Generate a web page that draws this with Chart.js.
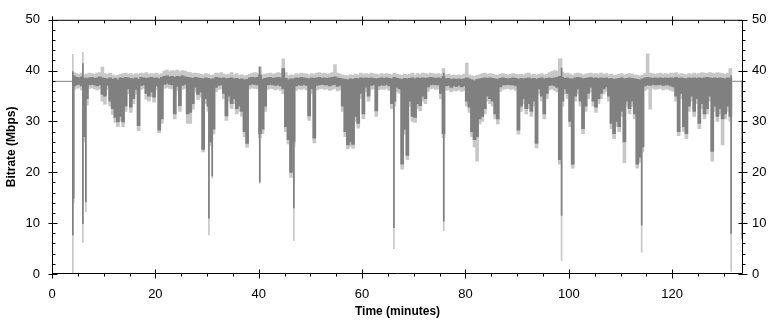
<!DOCTYPE html>
<html>
<head>
<meta charset="utf-8">
<script src="https://cdn.jsdelivr.net/npm/chart.js@4.4.1/dist/chart.umd.min.js"></script>
<style>
  html, body { margin: 0; padding: 0; background: #fff; }
  #wrap { width: 774px; height: 321px; }
</style>
</head>
<body>
<div id="wrap"><canvas id="bitrate" width="774" height="321"></canvas></div>
<script>
// samples are half-minute bins, first one centred on 4.25 min
const binStart = 4.25;
const binStep = 0.5;

// lower edge of the dark (mean) trace per bin, Mbps
const darkLow = [
  37.0, 37.2, 37.3, 37.0, 27.0, 34.5, 37.2, 37.3, 37.2, 37.0,
  37.2, 35.3, 35.0, 37.1, 34.0, 32.5, 30.8, 29.9, 31.0, 29.9,
  33.0, 36.4, 32.8, 34.5, 36.3, 29.2, 37.1, 37.2, 35.5, 35.0,
  35.8, 34.8, 37.0, 28.3, 30.5, 37.3, 37.5, 37.3, 37.2, 31.5,
  36.9, 33.1, 37.1, 37.3, 31.5, 31.8, 33.5, 36.7, 35.3, 35.8,
  24.5, 34.5, 33.0, 26.0, 28.5, 36.7, 37.1, 37.2, 35.5, 31.1,
  35.0, 33.5, 34.5, 32.5, 33.0, 32.0, 28.0, 25.7, 37.2, 37.4,
  37.3, 37.2, 27.6, 28.5, 33.0, 37.2, 37.3, 37.2, 37.1, 37.2,
  37.0, 36.4, 29.0, 26.4, 20.0, 26.0, 37.0, 37.2, 37.1, 37.3,
  37.1, 31.1, 36.4, 26.7, 37.1, 37.2, 37.3, 37.2, 37.2, 37.0,
  37.2, 37.3, 36.9, 37.1, 33.0, 28.0, 25.4, 26.0, 25.5, 31.0,
  29.6, 35.5, 31.5, 36.7, 35.0, 37.1, 37.2, 32.1, 37.0, 37.2,
  37.1, 37.3, 37.0, 33.5, 34.0, 36.7, 36.4, 21.6, 28.5, 23.3,
  34.0, 31.0, 30.8, 33.5, 33.1, 35.0, 34.5, 36.8, 37.2, 37.3,
  37.2, 37.2, 35.5, 27.6, 37.0, 37.1, 36.7, 37.0, 36.9, 37.1,
  36.8, 37.0, 34.0, 32.8, 28.0, 26.4, 27.0, 30.5, 31.0, 32.5,
  35.0, 34.5, 34.0, 31.5, 30.5, 36.8, 37.2, 37.2, 37.3, 37.2,
  37.2, 37.0, 28.3, 33.0, 34.5, 32.5, 33.5, 32.0, 34.0, 25.7,
  36.4, 35.0, 31.5, 35.5, 37.1, 37.2, 37.0, 36.7, 22.5, 34.0,
  36.4, 35.5, 30.0, 21.6, 35.0, 36.4, 34.0, 28.6, 33.0, 35.5,
  36.7, 34.0, 32.8, 34.5, 35.5, 36.4, 36.8, 35.0, 29.6, 27.6,
  30.0, 29.0, 32.0, 26.0, 34.0, 32.5, 34.0, 31.5, 21.6, 23.0,
  25.0, 37.0, 37.2, 37.1, 37.3, 37.2, 37.2, 37.3, 37.1, 37.2,
  37.2, 37.0, 36.8, 35.0, 28.0, 35.5, 29.0, 27.6, 33.0, 35.0,
  32.0, 34.5, 29.6, 33.5, 31.5, 32.5, 35.0, 24.1, 33.0, 31.0,
  32.5, 30.5, 31.5, 33.0, 31.0
];

// upper edge of the dark trace per bin
const darkHigh = [
  39.0, 38.7, 38.6, 38.8, 38.5, 38.4, 38.6, 38.7, 38.5, 38.6,
  38.8, 38.6, 38.5, 38.4, 38.6, 38.3, 38.5, 38.2, 38.6, 38.5,
  38.7, 38.6, 38.5, 38.4, 38.6, 38.3, 38.7, 38.6, 38.5, 38.6,
  38.7, 38.5, 38.6, 38.4, 38.7, 38.9, 39.0, 38.8, 38.9, 38.7,
  38.9, 38.8, 39.0, 38.8, 38.7, 38.6, 38.5, 38.7, 38.6, 38.5,
  38.4, 38.6, 38.5, 38.3, 38.4, 38.7, 38.6, 38.5, 38.6, 38.4,
  38.5, 38.6, 38.4, 38.5, 38.3, 38.4, 38.2, 38.3, 38.6, 38.7,
  38.6, 38.7, 39.2, 38.3, 38.5, 38.6, 38.7, 38.5, 38.6, 38.7,
  38.6, 40.4, 38.5, 38.2, 38.4, 38.3, 38.6, 38.5, 38.7, 38.6,
  38.5, 38.4, 38.6, 38.5, 38.6, 38.7, 38.5, 38.6, 38.5, 38.6,
  38.7, 38.8, 38.6, 38.5, 38.4, 38.3, 38.2, 38.4, 38.3, 38.5,
  38.4, 38.6, 38.5, 38.6, 38.5, 38.6, 38.5, 38.4, 38.5, 38.6,
  38.5, 38.6, 38.5, 38.4, 38.7, 38.5, 38.4, 38.3, 38.5, 38.4,
  38.5, 38.6, 38.4, 38.6, 38.5, 38.6, 38.5, 38.6, 38.7, 38.6,
  38.5, 38.6, 38.5, 38.9, 38.4, 38.5, 38.3, 38.4, 38.3, 38.4,
  38.3, 38.4, 38.6, 38.4, 38.2, 38.0, 38.3, 38.4, 38.5, 38.6,
  38.5, 38.6, 38.5, 38.4, 38.3, 38.5, 38.6, 38.5, 38.4, 38.5,
  38.6, 38.5, 38.3, 38.5, 38.4, 38.5, 38.6, 38.4, 38.5, 38.3,
  38.5, 38.6, 38.4, 38.5, 38.6, 38.5, 38.6, 38.7, 38.9, 38.7,
  38.5, 38.6, 38.4, 38.3, 38.6, 38.7, 38.6, 38.4, 38.5, 38.6,
  38.7, 38.5, 38.6, 38.5, 38.6, 38.5, 38.6, 38.4, 38.5, 38.3,
  38.4, 38.5, 38.6, 38.4, 38.5, 38.6, 38.5, 38.4, 38.3, 38.2,
  38.4, 38.6, 38.7, 38.6, 38.5, 38.6, 38.5, 38.6, 38.5, 38.6,
  38.5, 38.6, 38.5, 38.7, 38.5, 38.6, 38.5, 38.4, 38.6, 38.5,
  38.6, 38.5, 38.6, 38.5, 38.6, 38.7, 38.6, 38.5, 38.6, 38.5,
  38.6, 38.5, 38.4, 38.6, 38.5
];

// light gray envelope (min / max) per bin
const lightLow = [
  36.3, 36.5, 36.6, 36.2, 26.0, 33.2, 36.5, 36.6, 36.4, 36.2,
  36.4, 34.0, 33.4, 36.3, 33.0, 31.4, 29.8, 29.0, 30.1, 29.0,
  32.0, 35.4, 31.8, 33.5, 35.3, 28.2, 36.3, 36.5, 34.4, 34.0,
  34.9, 33.8, 36.2, 27.8, 29.6, 36.5, 36.7, 36.5, 36.4, 30.5,
  36.0, 32.0, 36.3, 36.5, 29.6, 29.6, 32.4, 35.8, 34.3, 34.8,
  24.0, 33.5, 32.0, 25.2, 27.5, 35.8, 36.3, 36.4, 34.5, 30.2,
  34.0, 32.5, 33.5, 31.5, 32.0, 31.0, 27.0, 24.9, 36.4, 36.6,
  36.5, 36.4, 26.8, 27.6, 32.0, 36.3, 36.5, 36.4, 36.2, 36.4,
  36.1, 35.4, 28.0, 25.6, 19.0, 25.0, 36.1, 36.4, 36.3, 36.5,
  36.2, 30.2, 35.4, 25.8, 36.2, 36.4, 36.5, 36.3, 36.4, 36.1,
  36.3, 36.5, 36.0, 36.2, 32.0, 27.0, 24.6, 25.1, 24.7, 30.0,
  28.7, 34.5, 30.5, 35.8, 34.0, 36.3, 36.4, 31.0, 36.2, 36.4,
  36.3, 36.5, 36.1, 32.5, 33.0, 35.8, 35.5, 20.6, 27.5, 22.5,
  33.0, 30.0, 29.8, 32.5, 32.1, 34.0, 33.5, 35.9, 36.4, 36.5,
  36.3, 36.4, 34.5, 26.8, 36.1, 36.2, 35.8, 36.1, 36.0, 36.2,
  35.9, 36.1, 33.0, 31.8, 27.0, 25.0, 22.2, 29.5, 30.0, 31.5,
  34.0, 33.5, 33.0, 30.5, 29.5, 35.9, 36.3, 36.4, 36.5, 36.3,
  36.4, 36.1, 27.5, 32.0, 33.5, 31.5, 32.5, 31.0, 33.0, 24.8,
  35.4, 34.0, 30.5, 34.5, 36.2, 36.4, 36.1, 35.8, 21.6, 33.0,
  35.4, 34.5, 29.0, 20.8, 34.0, 35.4, 33.0, 27.6, 32.0, 34.5,
  35.8, 33.0, 31.8, 33.5, 34.5, 35.4, 35.9, 34.0, 28.6, 26.6,
  29.0, 28.0, 31.0, 21.9, 33.0, 31.5, 33.0, 30.5, 20.8, 22.0,
  24.0, 36.1, 36.4, 32.4, 36.5, 36.3, 36.4, 36.5, 36.2, 36.4,
  36.3, 36.1, 35.9, 34.0, 27.2, 34.5, 28.0, 26.6, 32.0, 34.0,
  31.0, 33.5, 28.6, 32.5, 30.5, 31.5, 34.0, 22.2, 32.0, 30.0,
  31.5, 25.4, 30.5, 32.0, 30.0
];

const lightHigh = [
  39.6, 39.4, 39.3, 39.5, 39.2, 39.3, 39.5, 39.4, 39.3, 39.5,
  39.6, 40.7, 39.4, 39.3, 39.5, 39.2, 39.0, 39.1, 39.3, 39.4,
  39.5, 39.3, 39.4, 39.2, 39.4, 39.3, 39.5, 39.4, 39.6, 39.3,
  39.4, 39.3, 39.5, 39.2, 39.4, 39.9, 40.1, 39.8, 40.0, 39.9,
  40.1, 39.8, 40.0, 39.9, 39.7, 39.6, 39.4, 39.5, 39.4, 39.3,
  39.2, 39.4, 39.3, 39.1, 39.2, 39.5, 39.4, 39.6, 39.3, 39.2,
  39.3, 39.6, 39.2, 39.4, 39.1, 39.2, 39.0, 39.1, 39.3, 39.5,
  39.6, 39.5, 40.7, 39.2, 39.3, 39.4, 39.5, 39.3, 39.4, 39.6,
  39.5, 42.3, 39.6, 39.0, 39.2, 39.1, 39.4, 39.3, 39.5, 39.4,
  39.3, 39.2, 39.4, 39.3, 39.5, 39.6, 39.4, 39.5, 39.3, 39.4,
  39.6, 41.2, 39.5, 39.3, 39.2, 39.1, 39.0, 39.2, 39.1, 39.3,
  39.2, 39.5, 39.3, 39.4, 39.3, 39.5, 39.4, 39.3, 39.2, 39.4,
  39.3, 39.4, 39.3, 39.2, 39.5, 39.3, 39.2, 39.1, 39.3, 39.2,
  39.3, 39.5, 39.2, 39.4, 39.3, 39.5, 39.4, 39.3, 39.5, 39.4,
  39.3, 39.4, 39.3, 40.4, 39.2, 39.3, 39.1, 39.2, 39.1, 39.2,
  39.1, 39.3, 41.5, 39.2, 39.0, 38.9, 39.1, 39.2, 39.4, 39.5,
  39.3, 39.4, 39.3, 39.2, 39.1, 39.3, 39.4, 39.3, 39.2, 39.3,
  39.4, 39.3, 39.2, 39.3, 39.2, 39.4, 39.5, 39.2, 39.3, 39.1,
  39.3, 39.4, 39.2, 39.3, 39.6, 39.8, 40.0, 39.9, 42.3, 39.7,
  39.4, 39.5, 39.3, 39.1, 39.4, 39.5, 39.4, 39.2, 39.3, 39.4,
  39.5, 39.3, 39.4, 39.3, 39.5, 39.3, 39.4, 39.2, 39.3, 39.1,
  39.2, 39.3, 39.4, 39.2, 39.3, 39.4, 39.3, 39.2, 39.1, 39.0,
  39.2, 39.4, 43.3, 39.5, 39.4, 39.3, 39.4, 39.5, 39.3, 39.4,
  39.3, 39.5, 39.4, 39.6, 39.3, 39.4, 39.3, 39.2, 39.4, 39.3,
  39.5, 39.3, 39.4, 39.6, 39.5, 39.4, 39.6, 39.5, 39.4, 39.6,
  39.5, 39.4, 39.3, 39.5, 40.4
];

// narrow drop-outs, drawn as one-pixel needles
const needleTimes    = [4.03, 4.2, 5.97, 6.55, 30.36, 31.0, 40.2, 46.8, 66.15, 75.8, 98.6, 100.7, 114.1, 131.4, 133.55];
const needleDarkLow  = [7.7, 14.9, 9.9, 14.2, 11.0, 19.3, 18.1, 13.0, 9.1, 10.4, 11.5, 21.6, 9.6, 8.0, 6.9];
const needleDarkHigh = [39.8, 38.5, 41.4, 38.6, 38.5, 38.4, 40.7, 38.4, 38.5, 39.5, 40.5, 38.4, 38.3, 39.0, 38.0];
const needleLightLow = [0.0, 14.0, 6.2, 12.2, 7.7, 18.8, 17.8, 6.6, 5.0, 8.5, 2.6, 20.8, 4.3, 0.5, 6.9];
const needleLightHigh = [43.2, 39.0, 43.6, 39.2, 39.2, 39.0, 40.8, 39.0, 39.1, 40.4, 42.3, 39.0, 39.0, 40.4, 38.0];

// idle level before the first and after the last segment
const leadTimes = [0, 4.0];
const tailTimes = [131.6, 133.7];
const idleLevel = 37.9;

const yTicks = [0, 10, 20, 30, 40, 50];
const xTicks = [0, 20, 40, 60, 80, 100, 120];
const xMax = 133.7;

const DARK = '#808080';
const LIGHT = '#c8c8c8';

const binTimes = darkLow.map((_, i) => binStart + binStep * i);

function ranges(times, lo, hi) {
  return times.map((t, i) => ({ x: t, y: [lo[i], hi[i]] }));
}

Chart.defaults.font.family = 'Arial, "Liberation Sans", sans-serif';
Chart.defaults.color = '#000';

// box round the plot and the little tick marks on all four sides
const frameTicks = {
  id: 'frameTicks',
  afterDraw(chart) {
    const { ctx, chartArea: a, scales } = chart;
    const L = a.left + 0.5, R = a.right - 0.5, T = a.top + 0.5, B = a.bottom - 0.5;
    ctx.save();
    ctx.strokeStyle = '#000';
    ctx.lineWidth = 1;
    ctx.beginPath();
    ctx.rect(L, T, R - L, B - T);
    for (let v = 0; v <= 50; v += 2) {
      const y = Math.round(scales.y.getPixelForValue(v)) + 0.5;
      if (v % 10 === 0) {
        ctx.moveTo(L - 4, y); ctx.lineTo(L + 5, y);
        ctx.moveTo(R - 4, y); ctx.lineTo(R + 5, y);
      } else {
        ctx.moveTo(L, y); ctx.lineTo(L + 3, y);
        ctx.moveTo(R, y); ctx.lineTo(R + 3, y);
      }
    }
    for (let v = 0; v <= xMax; v += 5) {
      const x = Math.round(scales.x.getPixelForValue(v)) + 0.5;
      if (v % 20 === 0) {
        ctx.moveTo(x, T - 4); ctx.lineTo(x, T + 5);
        ctx.moveTo(x, B - 4); ctx.lineTo(x, B + 5);
      } else {
        ctx.moveTo(x, T); ctx.lineTo(x, T + 3);
        ctx.moveTo(x, B); ctx.lineTo(x, B + 3);
      }
    }
    ctx.stroke();
    ctx.restore();
  }
};

const tickFont = { size: 13 };
const titleFont = { size: 12, weight: 'bold' };

new Chart(document.getElementById('bitrate'), {
  type: 'bar',
  data: {
    datasets: [
      {
        type: 'line', order: 0,
        data: leadTimes.map(t => ({ x: t, y: idleLevel })),
        borderColor: DARK, borderWidth: 1, pointRadius: 0
      },
      {
        type: 'line', order: 0,
        data: tailTimes.map(t => ({ x: t, y: idleLevel })),
        borderColor: DARK, borderWidth: 1, pointRadius: 0
      },
      {
        order: 1, grouped: false, barThickness: 1,
        data: ranges(needleTimes, needleDarkLow, needleDarkHigh),
        backgroundColor: DARK, borderWidth: 0
      },
      {
        order: 2, grouped: false, barThickness: 3,
        data: ranges(binTimes, darkLow, darkHigh),
        backgroundColor: DARK, borderWidth: 0
      },
      {
        order: 3, grouped: false, barThickness: 1,
        data: ranges(needleTimes, needleLightLow, needleLightHigh),
        backgroundColor: LIGHT, borderWidth: 0
      },
      {
        order: 4, grouped: false, barThickness: 3,
        data: ranges(binTimes, lightLow, lightHigh),
        backgroundColor: LIGHT, borderWidth: 0
      }
    ]
  },
  options: {
    responsive: false,
    animation: false,
    events: [],
    layout: { padding: { top: 13, left: 0, right: 0, bottom: 0 } },
    plugins: { legend: { display: false }, tooltip: { enabled: false } },
    scales: {
      x: {
        type: 'linear', position: 'bottom', min: 0, max: xMax, offset: false,
        grid: { display: false, drawTicks: false },
        border: { display: false },
        afterBuildTicks: s => { s.ticks = xTicks.map(v => ({ value: v })); },
        ticks: { padding: 13, font: tickFont, maxRotation: 0, autoSkip: false },
        title: { display: true, text: 'Time (minutes)', font: titleFont, padding: { top: 0, bottom: 2 } },
        afterFit: s => { s.height = 47; }
      },
      y: {
        position: 'left', min: 0, max: 50,
        grid: { display: false, drawTicks: false },
        border: { display: false },
        afterBuildTicks: s => { s.ticks = yTicks.map(v => ({ value: v })); },
        ticks: { padding: 12, font: tickFont },
        title: { display: true, text: 'Bitrate (Mbps)', font: titleFont, padding: { top: 4, bottom: 0 } },
        afterFit: s => { s.width = 52; }
      },
      y2: {
        position: 'right', min: 0, max: 50,
        grid: { display: false, drawTicks: false },
        border: { display: false },
        afterBuildTicks: s => { s.ticks = yTicks.map(v => ({ value: v })); },
        ticks: { padding: 9, font: tickFont },
        afterFit: s => { s.width = 31; }
      }
    }
  },
  plugins: [frameTicks]
});
</script>
</body>
</html>
